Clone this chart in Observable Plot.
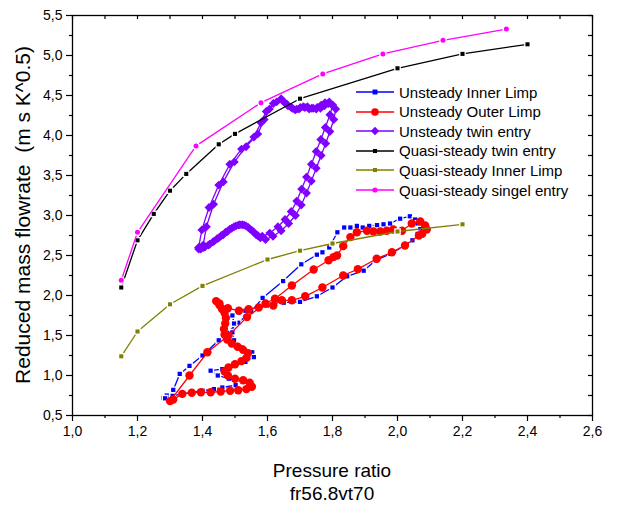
<!DOCTYPE html>
<html>
<head>
<meta charset="utf-8">
<script src="https://cdn.jsdelivr.net/npm/d3@7"></script>
<script src="https://cdn.jsdelivr.net/npm/@observablehq/plot@0.6"></script>
<style>
  html, body { margin: 0; padding: 0; background: #fff; }
  #wrap { position: relative; width: 617px; height: 505px; font-family: "Liberation Sans", Arial, sans-serif; color: #000; }
  .lbl { position: absolute; white-space: pre; line-height: 1; transform: translate(-50%, -50%); }
  #ylabel { transform: translate(-50%, -50%) rotate(-90deg); }
  .legrow { position: absolute; height: 20px; display: flex; align-items: center; font-size: 15px; white-space: nowrap; }
  .legrow svg { margin-right: 5px; }
</style>
</head>
<body>
<div id="wrap"></div>
<script>
// ---------- tick values ----------
const xTicks = [1.0, 1.2, 1.4, 1.6, 1.8, 2.0, 2.2, 2.4, 2.6];
const xMinorTicks = [1.1, 1.3, 1.5, 1.7, 1.9, 2.1, 2.3, 2.5];
const yTicks = [0.5, 1.0, 1.5, 2.0, 2.5, 3.0, 3.5, 4.0, 4.5, 5.0, 5.5];
const yMinorTicks = [0.75, 1.25, 1.75, 2.25, 2.75, 3.25, 3.75, 4.25, 4.75, 5.25];

// ---------- texts ----------
const xLabel = "Pressure ratio";
const subLabel = "fr56.8vt70";
const yLabel = "Reduced mass flowrate  (m s K^0.5)";
const seriesNames = ["Unsteady Inner Limp", "Unsteady Outer Limp", "Unsteady twin entry",
  "Quasi-steady twin entry", "Quasi-steady Inner Limp", "Quasi-steady singel entry"];

// ---------- data [pressure ratio, reduced mass flowrate] ----------
const unsteadyInner = [
  [1.28,0.72],[1.29,0.75],[1.31,0.82],[1.33,1.02],[1.36,1.12],[1.40,1.25],[1.45,1.44],[1.51,1.66],
  [1.55,1.80],[1.585,1.97],[1.648,2.18],[1.704,2.39],[1.752,2.51],[1.769,2.54],[1.79,2.60],[1.815,2.79],
  [1.836,2.85],[1.855,2.85],[1.875,2.87],[1.893,2.85],[1.913,2.87],[1.937,2.88],[1.957,2.89],[1.977,2.90],
  [2.008,2.96],[2.038,2.99],[2.054,2.95],[2.062,2.90],[2.07,2.83],[2.062,2.77],[2.046,2.69],[2.02,2.62],
  [1.978,2.52],[1.933,2.44],[1.896,2.31],[1.845,2.24],[1.80,2.10],[1.752,1.99],[1.70,1.92],[1.65,1.91],
  [1.62,1.94],[1.598,1.875],[1.532,1.81],[1.512,1.79],[1.492,1.75],[1.497,1.65],[1.492,1.54],[1.497,1.44],
  [1.522,1.35],[1.553,1.29],[1.558,1.23],[1.532,1.17],[1.496,1.12],[1.461,1.08],[1.425,1.06],[1.447,1.00],
  [1.481,0.96],[1.506,0.90],[1.502,0.88],[1.461,0.85],[1.435,0.83],[1.40,0.81],[1.368,0.79],[1.338,0.77],
  [1.308,0.745],[1.285,0.715]
];
const unsteadyOuter = [
  [1.30,0.68],[1.36,1.00],[1.415,1.29],[1.48,1.50],[1.537,1.73],[1.594,1.90],[1.623,1.96],[1.675,2.125],
  [1.742,2.325],[1.788,2.44],[1.803,2.48],[1.814,2.50],[1.833,2.617],[1.855,2.73],[1.875,2.79],[1.906,2.81],
  [1.926,2.80],[1.947,2.80],[1.967,2.81],[1.987,2.825],[2.014,2.81],[2.044,2.90],[2.07,2.925],[2.085,2.875],
  [2.09,2.825],[2.076,2.77],[2.066,2.75],[2.023,2.625],[1.983,2.54],[1.936,2.46],[1.878,2.33],[1.833,2.25],
  [1.769,2.10],[1.716,1.99],[1.675,1.94],[1.644,1.94],[1.618,1.875],[1.573,1.85],[1.542,1.83],[1.512,1.81],
  [1.478,1.84],[1.452,1.90],[1.442,1.93],[1.452,1.88],[1.46,1.83],[1.468,1.78],[1.472,1.72],[1.470,1.65],
  [1.466,1.58],[1.468,1.51],[1.476,1.45],[1.490,1.40],[1.508,1.36],[1.525,1.32],[1.540,1.28],[1.535,1.22],
  [1.520,1.18],[1.500,1.14],[1.480,1.10],[1.468,1.05],[1.478,1.00],[1.500,0.96],[1.525,0.94],[1.545,0.91],
  [1.552,0.86],[1.535,0.83],[1.510,0.815],[1.485,0.81],[1.456,0.80],[1.425,0.79],[1.395,0.79],[1.367,0.785],
  [1.338,0.77],[1.31,0.70]
];
const unsteadyTwin = [
  [1.388,2.60],[1.398,2.82],[1.420,3.10],[1.450,3.38],[1.484,3.64],[1.520,3.83],[1.558,3.98],[1.580,4.16],
  [1.596,4.30],[1.618,4.40],[1.642,4.46],[1.653,4.41],[1.663,4.37],[1.677,4.34],[1.690,4.33],[1.701,4.35],
  [1.715,4.35],[1.728,4.33],[1.741,4.34],[1.753,4.35],[1.765,4.38],[1.777,4.41],[1.790,4.42],[1.801,4.38],
  [1.792,4.26],[1.778,4.10],[1.764,3.95],[1.750,3.80],[1.735,3.64],[1.720,3.48],[1.705,3.33],[1.690,3.18],
  [1.673,3.05],[1.654,2.95],[1.632,2.86],[1.607,2.78],[1.584,2.74],[1.570,2.75],[1.558,2.79],[1.546,2.83],
  [1.534,2.87],[1.522,2.885],[1.510,2.88],[1.497,2.86],[1.484,2.83],[1.471,2.79],[1.458,2.75],[1.445,2.71],
  [1.432,2.67],[1.418,2.63],[1.404,2.60],[1.394,2.58],
  [1.402,2.63],[1.412,2.86],[1.434,3.14],[1.464,3.42],[1.498,3.67],[1.534,3.86],[1.570,4.02],[1.590,4.20],
  [1.606,4.33],[1.628,4.42],[1.648,4.43],[1.660,4.39],[1.673,4.35],[1.685,4.32],[1.697,4.33],[1.710,4.36],
  [1.723,4.36],[1.736,4.34],[1.750,4.33],[1.763,4.34],[1.775,4.37],[1.787,4.40],[1.798,4.38],[1.810,4.33],
  [1.804,4.20],[1.792,4.05],[1.779,3.90],[1.765,3.75],[1.750,3.59],[1.735,3.43],[1.720,3.28],[1.704,3.13],
  [1.686,3.00],[1.665,2.90],[1.642,2.81],[1.617,2.74],[1.594,2.70],[1.578,2.72],[1.565,2.76],[1.553,2.81],
  [1.541,2.85],[1.528,2.88],[1.515,2.885],[1.503,2.87],[1.490,2.84],[1.477,2.80],[1.464,2.76],[1.450,2.72],
  [1.436,2.68],[1.422,2.64],[1.408,2.61],[1.396,2.59],[1.388,2.58]
];
const quasiTwin = [
  [1.15,2.10],[1.20,2.69],[1.25,3.02],[1.30,3.31],[1.35,3.52],[1.45,3.89],[1.50,4.02],
  [1.70,4.46],[2.00,4.84],[2.20,5.02],[2.40,5.14]
];
const quasiInner = [
  [1.15,1.24],[1.20,1.55],[1.30,1.89],[1.40,2.12],[1.60,2.45],[1.70,2.56],[1.80,2.65],[2.00,2.80],[2.20,2.89]
];
const quasiSingle = [
  [1.15,2.19],[1.20,2.79],[1.38,3.87],[1.58,4.41],[1.77,4.77],[1.955,5.02],[2.14,5.19],[2.335,5.33]
];

// ---------- styles ----------
const styles = [
  {data: unsteadyInner, color: "#0000ff", symbol: d3.symbolSquare,   r: 2.4, lr: 2.8, halo: true},
  {data: unsteadyOuter, color: "#ff0000", symbol: d3.symbolCircle,   r: 4.2, lr: 3.8, halo: false},
  {data: unsteadyTwin,  color: "#8000ff", symbol: d3.symbolDiamond2, r: 4.0, lr: 3.8, halo: false},
  {data: quasiTwin,     color: "#000000", symbol: d3.symbolSquare,   r: 2.3, lr: 2.3, halo: true},
  {data: quasiInner,    color: "#808000", symbol: d3.symbolSquare,   r: 2.3, lr: 2.3, halo: true},
  {data: quasiSingle,   color: "#ff00ff", symbol: d3.symbolCircle,   r: 2.5, lr: 2.6, halo: true}
];

const fmt = d => d.toFixed(1).replace(".", ",");
const W = 617, H = 505, mL = 72, mR = 25, mT = 15, mB = 90;
const fw = W - mL - mR, fh = H - mT - mB;

const seriesMarks = styles.flatMap(s => [
  Plot.line(s.data, {x: d => d[0], y: d => d[1], stroke: s.color, strokeWidth: 1.3}),
  Plot.dot(s.data, {x: d => d[0], y: d => d[1], symbol: s.symbol, r: s.r, fill: s.color,
    stroke: s.halo ? "white" : "none", strokeWidth: s.halo ? 2.6 : 0, paintOrder: "stroke"})
]);

const plot = Plot.plot({
  width: W, height: H,
  marginLeft: mL, marginRight: mR, marginTop: mT, marginBottom: mB,
  style: {fontFamily: "'Liberation Sans', Arial, sans-serif", color: "#000", background: "#fff", overflow: "visible"},
  x: {domain: [1.0, 2.6]},
  y: {domain: [0.5, 5.5]},
  marks: [
    Plot.axisX(xMinorTicks, {tickSize: 3, tickFormat: () => "", label: null, strokeWidth: 1.2}),
    Plot.axisX(xTicks, {tickSize: 6, tickPadding: 5, tickFormat: fmt, label: null, fontSize: 14, strokeWidth: 1.2}),
    Plot.axisY(yMinorTicks, {tickSize: 3, tickFormat: () => "", label: null, strokeWidth: 1.2}),
    Plot.axisY(yTicks, {tickSize: 6, tickPadding: 4, tickFormat: fmt, label: null, fontSize: 14, strokeWidth: 1.2}),
    Plot.tickX(xTicks.concat(xMinorTicks), {x: d => d, insetBottom: fh - 4, stroke: "#000", strokeWidth: 1.2}),
    Plot.tickY(yTicks.concat(yMinorTicks), {y: d => d, insetLeft: fw - 4, stroke: "#000", strokeWidth: 1.2}),
    ...seriesMarks,
    Plot.frame({stroke: "#000", strokeWidth: 1.3})
  ]
});

const wrap = document.getElementById("wrap");
wrap.appendChild(plot);

// axis titles
function addLabel(id, text, cx, cy, size) {
  const el = document.createElement("div");
  el.className = "lbl";
  if (id) el.id = id;
  el.textContent = text;
  el.style.left = cx + "px";
  el.style.top = cy + "px";
  el.style.fontSize = size + "px";
  wrap.appendChild(el);
}
addLabel(null, xLabel, mL + fw / 2, 470, 19);
addLabel(null, subLabel, mL + fw / 2, 493, 19);
addLabel("ylabel", yLabel, 22, mT + fh / 2, 21);

// legend
const legTop = 92, legStep = 19.6;
styles.forEach((s, i) => {
  const row = document.createElement("div");
  row.className = "legrow";
  row.style.left = "356px";
  row.style.top = (legTop + i * legStep - 10) + "px";
  const svg = d3.create("svg").attr("width", 38).attr("height", 20);
  svg.append("line").attr("x1", 0).attr("x2", 38).attr("y1", 10).attr("y2", 10)
    .attr("stroke", s.color).attr("stroke-width", 1.4);
  svg.append("path").attr("d", d3.symbol(s.symbol, Math.PI * s.lr * s.lr)())
    .attr("transform", "translate(19,10)").attr("fill", s.color);
  row.appendChild(svg.node());
  const span = document.createElement("span");
  span.textContent = seriesNames[i];
  row.appendChild(span);
  wrap.appendChild(row);
});
</script>
</body>
</html>
